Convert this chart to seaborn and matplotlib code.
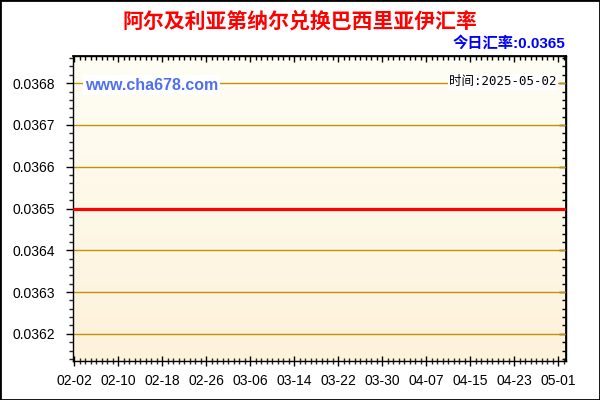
import matplotlib
matplotlib.use("Agg")
import matplotlib.pyplot as plt
import matplotlib.dates as mdates
from matplotlib.ticker import MultipleLocator, FormatStrFormatter, FixedLocator, NullFormatter
from matplotlib.patches import Rectangle
import numpy as np
import pandas as pd
import seaborn as sns

# ---- data ----
title = "阿尔及利亚第纳尔兑换巴西里亚伊汇率"
today_label = "今日汇率:0.0365"
date_label = "时间:2025-05-02"
site_label = "www.cha678.com"

dates = ["2025-02-02", "2025-02-10", "2025-02-18", "2025-02-26", "2025-03-06",
         "2025-03-14", "2025-03-22", "2025-03-30", "2025-04-07", "2025-04-15",
         "2025-04-23", "2025-05-01", "2025-05-02"]
rates = [0.0365, 0.0365, 0.0365, 0.0365, 0.0365, 0.0365, 0.0365,
         0.0365, 0.0365, 0.0365, 0.0365, 0.0365, 0.0365]
tick_dates = ["2025-02-02", "2025-02-10", "2025-02-18", "2025-02-26", "2025-03-06",
              "2025-03-14", "2025-03-22", "2025-03-30", "2025-04-07", "2025-04-15",
              "2025-04-23", "2025-05-01"]
y_ticks = [0.0362, 0.0363, 0.0364, 0.0365, 0.0366, 0.0367, 0.0368]

df = pd.DataFrame({"date": pd.to_datetime(dates), "rate": rates})

sns.set_theme(style="white")
plt.rcParams['font.family'] = ['Liberation Sans', 'Noto Sans CJK SC', 'DejaVu Sans']

fig = plt.figure(figsize=(6, 4), dpi=100)
fig.patch.set_facecolor("white")
ax = fig.add_axes([73/600, 39/400, 493/600, 305/400])

# gradient background
top = np.array([255, 254, 245]) / 255
bot = np.array([253, 242, 218]) / 255
t = np.linspace(0, 1, 256)[:, None]
grad = (top[None, :] * (1 - t) + bot[None, :] * t)[:, None, :]
ax.imshow(grad, extent=[0, 1, 0, 1], transform=ax.transAxes, aspect="auto", zorder=0)

# grid lines at major y ticks
for yv in y_ticks:
    ax.axhline(yv, color="#C4900A", lw=1.0, zorder=1)

sns.lineplot(data=df, x="date", y="rate", color="#FF0000", linewidth=2.3, ax=ax, zorder=3)

x0 = pd.Timestamp("2025-02-02")
ax.set_xlim(mdates.date2num(x0 - pd.Timedelta(hours=6)), mdates.date2num(x0 + pd.Timedelta(days=89.4)))
ax.set_ylim(0.0365 * 0.99, 0.0365 * 1.01)

major_x = mdates.date2num(pd.to_datetime(tick_dates))
ax.xaxis.set_major_locator(FixedLocator(major_x))
ax.xaxis.set_major_formatter(mdates.DateFormatter("%m-%d"))
ax.xaxis.set_minor_locator(mdates.DayLocator())
ax.yaxis.set_major_locator(FixedLocator(y_ticks))
ax.yaxis.set_major_formatter(FormatStrFormatter("%.4f"))
ax.yaxis.set_minor_locator(MultipleLocator(0.00002))

ax.set_xlabel("")
ax.set_ylabel("")
ax.grid(False)

for s in ax.spines.values():
    s.set_color("black")
    s.set_linewidth(1.0)
    s.set_visible(True)

ax.tick_params(axis="y", which="major", left=True, right=False, direction="out", length=5, width=1,
               labelsize=10, pad=8, colors="black")
ax.tick_params(axis="y", which="minor", left=True, right=False, direction="out", length=3, width=1)
ax.tick_params(axis="x", which="major", bottom=True, top=False, direction="inout", length=7, width=1,
               labelsize=10, pad=6, colors="black")
ax.tick_params(axis="x", which="minor", bottom=True, top=False, direction="inout", length=4, width=1)

# inward ticks on right and top
sy = ax.secondary_yaxis("right")
sy.yaxis.set_major_locator(FixedLocator(y_ticks))
sy.yaxis.set_minor_locator(MultipleLocator(0.00002))
sy.yaxis.set_major_formatter(NullFormatter())
sy.tick_params(axis="y", which="major", direction="in", length=5, width=1, colors="black")
sy.tick_params(axis="y", which="minor", direction="in", length=3, width=1, colors="black")
sy.spines["right"].set_color("black")

sx = ax.secondary_xaxis("top")
sx.xaxis.set_major_locator(FixedLocator(major_x))
sx.xaxis.set_minor_locator(mdates.DayLocator())
sx.xaxis.set_major_formatter(NullFormatter())
sx.tick_params(axis="x", which="major", direction="in", length=4, width=1, colors="black")
sx.tick_params(axis="x", which="minor", direction="in", length=3, width=1, colors="black")
sx.spines["top"].set_color("black")

for lab in ax.get_xticklabels() + ax.get_yticklabels():
    lab.set_color("black")

# texts
fig.text(300/600, 1 - 21/400, title, ha="center", va="center", fontsize=15, fontweight="bold",
         color="#FF0000", family=["Noto Sans CJK SC", "DejaVu Sans"])
fig.text(565/600, 1 - 43/400, today_label, ha="right", va="center", fontsize=11, fontweight="bold",
         color="#0000FF", family=["Liberation Sans", "Noto Sans CJK SC"])
fig.text(85/600, 1 - 85/400, site_label, ha="left", va="center", fontsize=11.5, fontweight="bold",
         color="#5070F0", family=["Liberation Sans"],
         bbox=dict(facecolor="white", edgecolor="none", pad=1.5), zorder=5)
fig.text(557/600, 1 - 82/400, date_label, ha="right", va="center", fontsize=9,
         color="black", family=["DejaVu Sans Mono", "Noto Sans CJK SC"],
         bbox=dict(facecolor="white", edgecolor="none", pad=1.0), zorder=5)

fig.patches.append(Rectangle((0, 0), 1, 1, transform=fig.transFigure, fill=False,
                             edgecolor="black", lw=2, zorder=10))

fig.savefig("out.png", dpi=100)
